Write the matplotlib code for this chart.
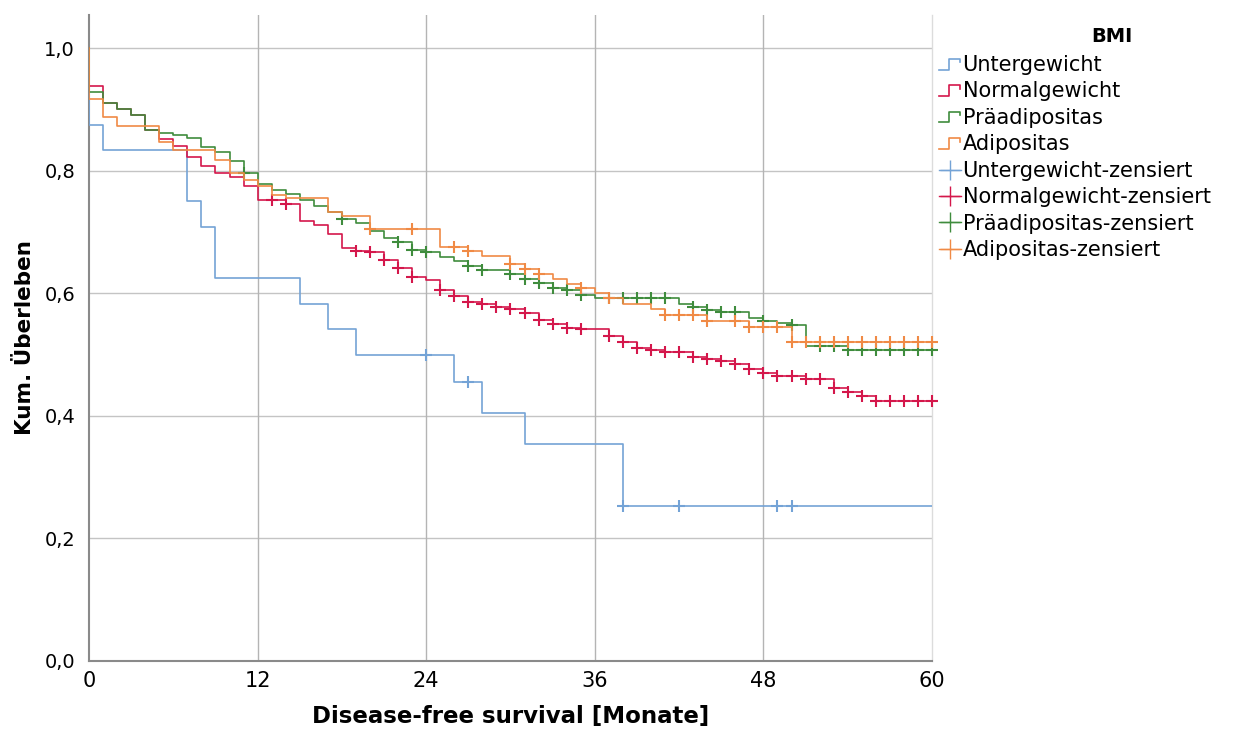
import numpy as np
import matplotlib
matplotlib.use("Agg")
import matplotlib.pyplot as plt
from matplotlib.lines import Line2D
from matplotlib.legend_handler import HandlerBase

# ---------------- data ----------------
groups = ["Untergewicht", "Normalgewicht", "Präadipositas", "Adipositas"]
colors = ["#74a3d6", "#d4174b", "#3f8c3d", "#f08a45"]

unter_t = [0, 1, 7, 8, 9, 15, 17, 19, 26, 28, 31, 38]
unter_s = [0.875, 0.833, 0.750, 0.708, 0.625, 0.583, 0.542, 0.500, 0.455, 0.404, 0.354, 0.253]
unter_c = [24, 27, 38, 42, 49, 50]

normal_t = [0, 1, 2, 3, 4, 5, 6, 7, 8, 9, 10, 11, 12, 14, 15, 16, 17, 18, 19, 20, 21, 22, 23, 24,
            25, 26, 27, 28, 29, 30, 31, 32, 33, 34, 35, 37, 38, 39, 40, 41, 43, 44, 45, 46, 47,
            48, 49, 51, 53, 54, 55, 56]
normal_s = [0.938, 0.911, 0.900, 0.891, 0.866, 0.851, 0.840, 0.822, 0.807, 0.797, 0.790, 0.775,
            0.752, 0.745, 0.718, 0.711, 0.697, 0.674, 0.669, 0.667, 0.654, 0.642, 0.627, 0.622,
            0.606, 0.596, 0.586, 0.583, 0.577, 0.575, 0.568, 0.556, 0.550, 0.544, 0.541, 0.530,
            0.521, 0.511, 0.508, 0.504, 0.496, 0.493, 0.489, 0.484, 0.476, 0.470, 0.465, 0.460,
            0.446, 0.439, 0.432, 0.425]
normal_c = [13, 14, 19, 20, 21, 22, 23, 25, 26, 27, 28, 29, 30, 31, 32, 33, 34, 35, 37, 38, 39,
            40, 41, 42, 43, 44, 45, 46, 47, 48, 49, 50, 51, 52, 53, 54, 55, 56, 57, 58, 59, 60]

praead_t = [0, 1, 2, 3, 4, 5, 6, 7, 8, 9, 10, 11, 12, 13, 14, 15, 16, 17, 18, 19, 20, 21, 22,
            23, 24, 25, 26, 27, 28, 30, 31, 32, 33, 34, 35, 36, 42, 43, 44, 45, 47, 48, 49, 50,
            51, 54]
praead_s = [0.928, 0.911, 0.900, 0.891, 0.866, 0.862, 0.858, 0.854, 0.838, 0.831, 0.815, 0.796,
            0.778, 0.768, 0.762, 0.752, 0.742, 0.733, 0.721, 0.714, 0.702, 0.690, 0.684, 0.670,
            0.668, 0.659, 0.652, 0.645, 0.638, 0.631, 0.624, 0.617, 0.608, 0.605, 0.597, 0.593,
            0.583, 0.578, 0.573, 0.569, 0.559, 0.554, 0.551, 0.548, 0.514, 0.507]
praead_c = [11, 18, 22, 23, 24, 27, 28, 30, 31, 32, 33, 34, 35, 37, 38, 39, 40, 41, 43, 44, 45,
            46, 48, 50, 52, 53, 54, 55, 56, 57, 58, 59, 60]

adipo_t = [0, 1, 2, 5, 6, 9, 10, 11, 12, 13, 14, 17, 18, 20, 25, 27, 28, 30, 31, 32, 33, 34, 35,
           36, 37, 38, 40, 41, 44, 47, 50]
adipo_s = [0.917, 0.888, 0.873, 0.847, 0.834, 0.817, 0.796, 0.785, 0.775, 0.761, 0.755, 0.733,
           0.726, 0.705, 0.676, 0.669, 0.661, 0.647, 0.640, 0.632, 0.623, 0.615, 0.608, 0.601,
           0.592, 0.583, 0.574, 0.564, 0.555, 0.545, 0.521]
adipo_c = [20, 23, 26, 27, 30, 31, 32, 35, 37, 41, 42, 43, 44, 46, 47, 48, 49, 50, 51, 52, 53,
           54, 55, 56, 57, 58, 59, 60]

x_ticks = [0, 12, 24, 36, 48, 60]
y_ticks = [0.0, 0.2, 0.4, 0.6, 0.8, 1.0]
y_labels = ["0,0", "0,2", "0,4", "0,6", "0,8", "1,0"]

plt.rcParams["font.family"] = ["DejaVu Sans"]

# ---------------- figure ----------------
fig = plt.figure(figsize=(12.42, 7.31), dpi=100)
ax = fig.add_axes([89 / 1242, 1 - 661 / 731, (932 - 89) / 1242, (661 - 15) / 731])
ax.set_xlim(0, 60)
ax.set_ylim(0, 1.054)

series = [(unter_t, unter_s, unter_c), (normal_t, normal_s, normal_c),
          (praead_t, praead_s, praead_c), (adipo_t, adipo_s, adipo_c)]
order = [0, 2, 3, 1]
for i in order:
    t, s, c = series[i]
    t = np.asarray(t, float)
    s = np.asarray(s, float)
    xs = np.r_[0.0, t, 60.0]
    ys = np.r_[1.0, s, s[-1]]
    ax.step(xs, ys, where="post", color=colors[i], lw=1.2, zorder=3 + i)
    c = np.asarray(c, float)
    idx = np.searchsorted(t, c, side="right") - 1
    ax.plot(c, s[idx], linestyle="none", marker="+", markersize=8, mew=1.5,
            color=colors[i], zorder=3 + i, clip_on=False)

# grid
for yv in y_ticks[1:]:
    ax.axhline(yv, color="#c4c4c4", lw=1.0, zorder=1)
for xv in x_ticks[1:-1]:
    ax.axvline(xv, color="#b4b4b4", lw=1.0, zorder=1)

ax.spines["top"].set_visible(False)
ax.spines["right"].set_color("#dcdcdc")
ax.spines["right"].set_linewidth(1.0)
for side in ["left", "bottom"]:
    ax.spines[side].set_color("#8a8a8a")
    ax.spines[side].set_linewidth(1.5)

ax.set_xticks(x_ticks)
ax.set_xticklabels([str(v) for v in x_ticks], fontsize=15)
ax.set_yticks(y_ticks)
ax.set_yticklabels(y_labels, fontsize=14)
ax.tick_params(axis="both", length=0)
ax.tick_params(axis="y", pad=10)
ax.tick_params(axis="x", pad=7)

ax.set_xlabel("Disease-free survival [Monate]", fontsize=16.5, fontweight="bold",
              labelpad=10)
ax.set_ylabel("Kum. Überleben", fontsize=15.5, fontweight="bold", labelpad=7)


# legend
class StepHandler(HandlerBase):
    def create_artists(self, legend, orig_handle, xdescent, ydescent, width, height,
                       fontsize, trans):
        xs = np.array([0.0, 0.45, 0.45, 0.95, 0.95]) * width - xdescent
        ys = np.array([0.1, 0.1, 0.85, 0.85, 0.6]) * height - ydescent
        ln = Line2D(xs, ys, color=orig_handle.get_color(), lw=1.2)
        ln.set_transform(trans)
        return [ln]


line_handles = [Line2D([], [], color=col) for col in colors]
cens_handles = [Line2D([], [], color=col, marker="+", markersize=15, mew=1.0, lw=1.0)
                for col in colors]
handles = line_handles + cens_handles
labels = groups + [g + "-zensiert" for g in groups]
hmap = {h: StepHandler() for h in line_handles}
leg = fig.legend(handles, labels, loc="upper left", bbox_to_anchor=(939 / 1242, 1 - 55 / 731),
                 frameon=False, fontsize=15, handlelength=1.05, handletextpad=0.08,
                 labelspacing=0.31, borderaxespad=0, borderpad=0, handler_map=hmap)
fig.text(1112 / 1242, 1 - 37 / 731, "BMI", fontsize=14, fontweight="bold",
         ha="center", va="center")

fig.savefig("out.png", dpi=100)
